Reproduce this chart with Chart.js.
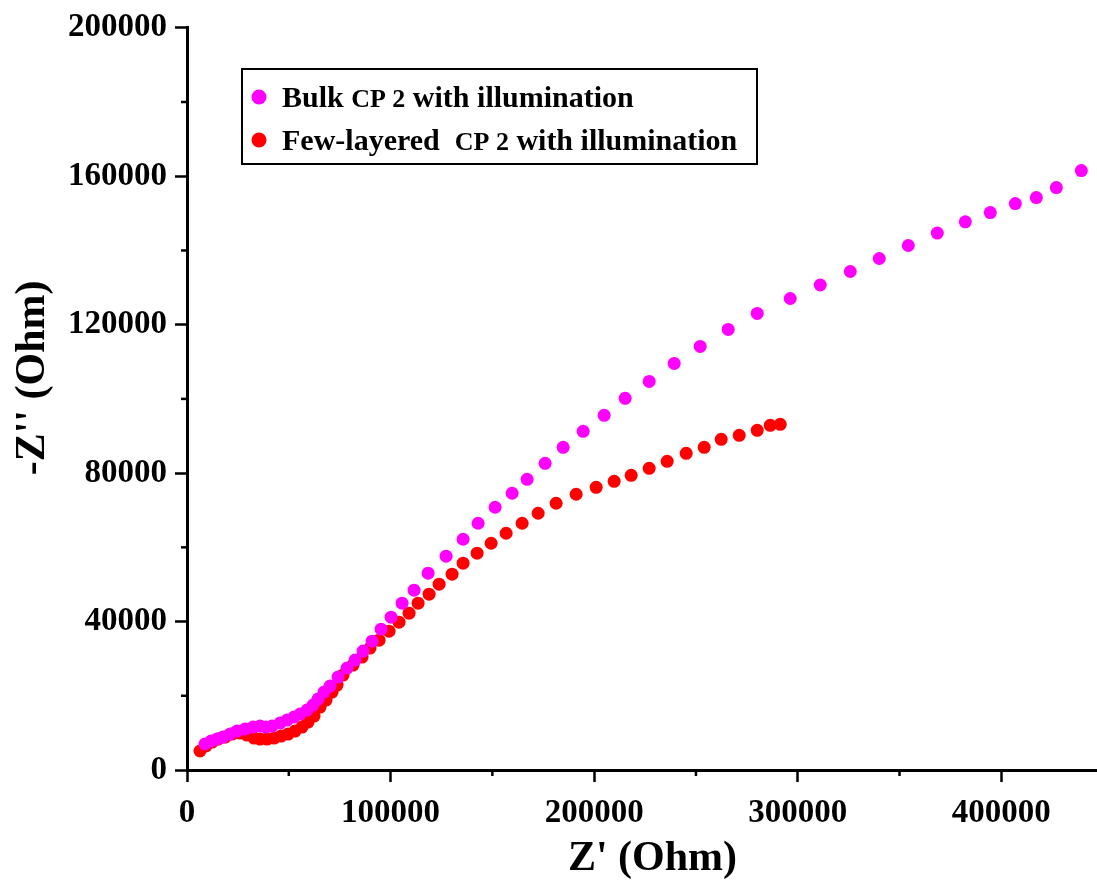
<!DOCTYPE html>
<html>
<head>
<meta charset="utf-8">
<script src="https://cdn.jsdelivr.net/npm/chart.js@4.4.0/dist/chart.umd.min.js"></script>
<style>
  body { margin: 0; background: #fff; }
  #wrap { width: 1097px; height: 880px; }
</style>
</head>
<body>
<div id="wrap"><canvas id="nyquist" width="1097" height="880"></canvas></div>
<script>
// Z' (Ohm) and -Z'' (Ohm)
const bulkZre = [8845, 11794, 14742, 17690, 21130, 24570, 28501, 32432, 35872, 38821,
  41769, 45700, 49140, 52580, 55528, 58968, 61916, 64373, 67322, 70270,
  74201, 78624, 82555, 86486, 90909, 95332, 100246, 105651, 111548, 118427,
  127273, 135626, 142997, 151351, 159705, 167076, 175921, 184766, 194594, 204914,
  215233, 227027, 239312, 252088, 265847, 280098, 296314, 311056, 325798, 340049,
  354299, 368550, 382309, 394594, 406879, 417199, 427027, 439312];
const bulkZim = [7000, 7806, 8345, 8883, 9690, 10499, 11037, 11576, 11845, 11576,
  11845, 12652, 13460, 14268, 15075, 16152, 17498, 19113, 20998, 22613,
  25036, 27458, 29612, 32035, 34727, 37957, 41188, 44956, 48456, 53032,
  57609, 62185, 66492, 70800, 74568, 78337, 82644, 86952, 91259, 95566,
  100142, 104719, 109564, 114141, 118717, 123024, 127062, 130696, 134331, 137830,
  141330, 144695, 147719, 150214, 152636, 154252, 156944, 161520];

const fewZre = [6388, 9337, 12285, 15233, 18673, 22113, 26044, 29484, 32924, 35872,
  39312, 42752, 46192, 49631, 53071, 56511, 59459, 62408, 65356, 68305,
  71253, 73710, 76658, 81572, 85995, 89926, 94349, 99263, 104177, 109091,
  113513, 118919, 123833, 130221, 135626, 142506, 149386, 156757, 164619, 172481,
  181327, 191155, 200983, 209828, 218182, 227027, 235872, 245209, 254047, 262408,
  271253, 280098, 286487, 291400];
const fewZim = [5115, 6460, 7537, 8345, 8883, 9690, 9960, 9422, 8614, 8345,
  8345, 8614, 9153, 9691, 10499, 11576, 12922, 14537, 16960, 18844,
  20998, 22882, 25574, 28266, 30420, 32842, 34996, 37419, 39842, 42264,
  44956, 47379, 50071, 52763, 55724, 58416, 61108, 63800, 66492, 69184,
  71876, 74299, 76184, 77799, 79414, 81298, 83183, 85336, 86952, 89105,
  90182, 91528, 92874, 93143];

const seriesLabels = ['Bulk CP 2 with illumination', 'Few-layered  CP 2 with illumination'];
const seriesColors = ['#ff00ff', '#ff0000'];
const xTicksMajor = [0, 100000, 200000, 300000, 400000];
const yTicksMajor = [0, 40000, 80000, 120000, 160000, 200000];

const serif = '"Liberation Serif", "Times New Roman", serif';

function toPoints(xs, ys) {
  return xs.map((x, i) => ({ x: x, y: ys[i] }));
}

// small ticks between the labelled ones
const minorTicks = {
  id: 'minorTicks',
  afterDraw(chart) {
    const ctx = chart.ctx;
    const xs = chart.scales.x, ys = chart.scales.y;
    ctx.save();
    ctx.strokeStyle = '#000';
    ctx.lineWidth = 2.5;
    for (let i = 0; i < xTicksMajor.length; i++) {
      const v = xTicksMajor[i] + 50000;
      if (v > xs.max) break;
      const px = xs.getPixelForValue(v);
      ctx.beginPath();
      ctx.moveTo(px, ys.bottom);
      ctx.lineTo(px, ys.bottom + 6);
      ctx.stroke();
    }
    for (let i = 0; i < yTicksMajor.length - 1; i++) {
      const py = ys.getPixelForValue(yTicksMajor[i] + 20000);
      ctx.beginPath();
      ctx.moveTo(xs.left, py);
      ctx.lineTo(xs.left - 6, py);
      ctx.stroke();
    }
    ctx.restore();
  }
};

// boxed legend inside the plot, "CP 2" set a bit smaller
const boxLegend = {
  id: 'boxLegend',
  afterDraw(chart) {
    const ctx = chart.ctx;
    const left = 242, top = 69, width = 515, height = 95;
    ctx.save();
    ctx.fillStyle = '#fff';
    ctx.fillRect(left, top, width, height);
    ctx.strokeStyle = '#000';
    ctx.lineWidth = 2;
    ctx.strokeRect(left, top, width, height);
    ctx.textBaseline = 'alphabetic';
    const rows = [97, 140];
    chart.data.datasets.forEach((ds, i) => {
      const cy = rows[i];
      ctx.fillStyle = ds.backgroundColor;
      ctx.beginPath();
      ctx.arc(259, cy, 7.5, 0, Math.PI * 2);
      ctx.fill();
      const parts = ds.label.split('CP 2');
      let x = 282;
      const base = cy + 10;
      ctx.fillStyle = '#000';
      ctx.font = 'bold 30px ' + serif;
      ctx.fillText(parts[0], x, base);
      x += ctx.measureText(parts[0]).width;
      ctx.font = 'bold 26px ' + serif;
      ctx.fillText('CP 2', x, base);
      x += ctx.measureText('CP 2').width;
      ctx.font = 'bold 30px ' + serif;
      ctx.fillText(parts[1], x, base);
    });
    ctx.restore();
  }
};

const ctx = document.getElementById('nyquist').getContext('2d');
new Chart(ctx, {
  type: 'scatter',
  data: {
    datasets: [
      {
        label: seriesLabels[0],
        data: toPoints(bulkZre, bulkZim),
        backgroundColor: seriesColors[0],
        borderColor: seriesColors[0],
        pointRadius: 6.5,
        borderWidth: 0
      },
      {
        label: seriesLabels[1],
        data: toPoints(fewZre, fewZim),
        backgroundColor: seriesColors[1],
        borderColor: seriesColors[1],
        pointRadius: 6.5,
        borderWidth: 0
      }
    ]
  },
  options: {
    responsive: false,
    animation: false,
    layout: { autoPadding: false, padding: { top: 27, right: 0, bottom: 0, left: 0 } },
    plugins: {
      legend: { display: false },
      tooltip: { enabled: false }
    },
    scales: {
      x: {
        type: 'linear',
        min: 0,
        max: 447000,
        afterBuildTicks(s) { s.ticks = xTicksMajor.map(v => ({ value: v })); },
        afterFit(s) { s.height = 110; },
        border: { color: '#000', width: 3 },
        grid: { drawOnChartArea: false, drawTicks: true, tickLength: 12, tickWidth: 2.5, tickColor: '#000' },
        ticks: {
          color: '#000',
          padding: 12,
          maxRotation: 0,
          autoSkip: false,
          font: { family: serif, size: 33, weight: 'bold' },
          callback: v => String(v)
        },
        title: {
          display: true,
          text: "\u2002Z' (Ohm)",
          color: '#000',
          font: { family: serif, size: 42, weight: 'bold' },
          padding: { top: 0, bottom: -4 }
        }
      },
      y: {
        type: 'linear',
        min: 0,
        max: 200000,
        afterBuildTicks(s) { s.ticks = yTicksMajor.map(v => ({ value: v })); },
        afterFit(s) { s.width = 187; },
        border: { color: '#000', width: 3 },
        grid: { drawOnChartArea: false, drawTicks: true, tickLength: 12, tickWidth: 2.5, tickColor: '#000' },
        ticks: {
          color: '#000',
          padding: 8,
          autoSkip: false,
          font: { family: serif, size: 33, weight: 'bold' },
          callback: v => String(v)
        },
        title: {
          display: true,
          text: "\u2002\u2002-Z'' (Ohm)",
          color: '#000',
          font: { family: serif, size: 42, weight: 'bold' },
          padding: { top: 8, bottom: 0 }
        }
      }
    }
  },
  plugins: [minorTicks, boxLegend]
});
</script>
</body>
</html>
